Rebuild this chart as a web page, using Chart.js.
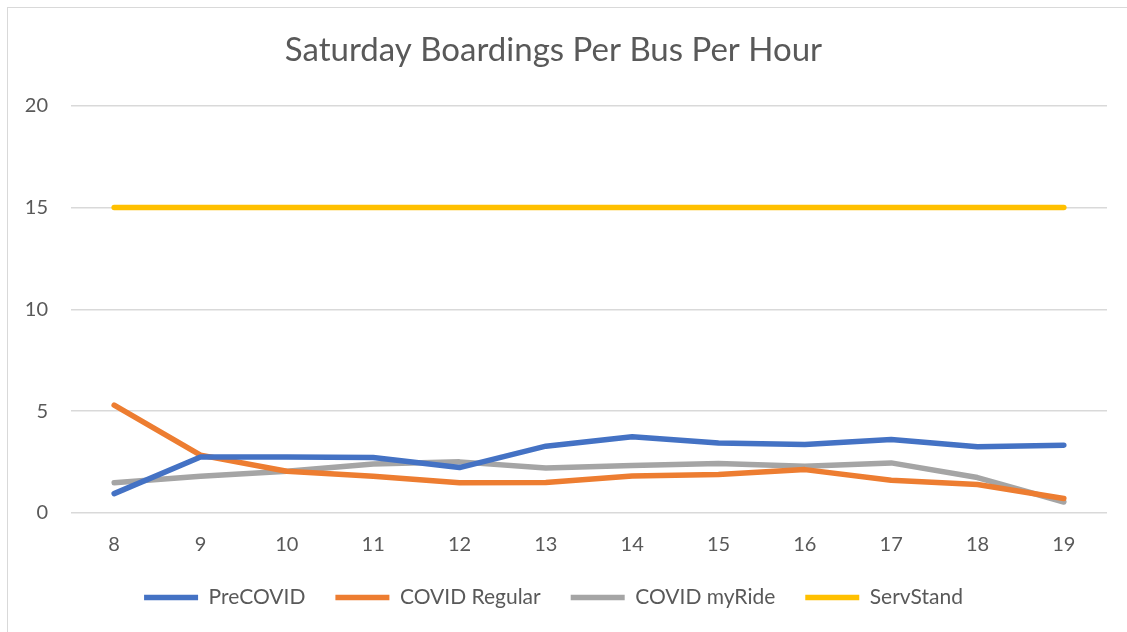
<!DOCTYPE html>
<html><head><meta charset="utf-8">
<script src="https://cdn.jsdelivr.net/npm/chart.js@4/dist/chart.umd.min.js"></script>
<style>
html,body{margin:0;padding:0;background:#fff;}
#wrap{position:relative;width:1127px;height:632px;}
#frame{position:absolute;left:7px;top:7px;width:1200px;height:700px;border-left:1px solid #d9d9d9;border-top:1px solid #d9d9d9;box-sizing:border-box;}
canvas{position:absolute;left:0;top:0;}
</style></head>
<body><div id="wrap"><div id="frame"></div><canvas id="c" width="1127" height="632"></canvas></div>
<script>
const hours = ['8','9','10','11','12','13','14','15','16','17','18','19'];
const preCovid = [0.95,2.75,2.75,2.72,2.23,3.28,3.74,3.44,3.36,3.61,3.25,3.33];
const covidRegular = [5.30,2.84,2.05,1.80,1.49,1.50,1.82,1.89,2.13,1.61,1.40,0.71];
const covidMyRide = [1.48,1.80,2.05,2.40,2.51,2.21,2.33,2.43,2.30,2.46,1.74,0.54];
const servStand = [15,15,15,15,15,15,15,15,15,15,15,15];
const yTicks = [0,5,10,15,20];
const titleText = 'Saturday Boardings Per Bus Per Hour';

const FONT = 'Lato, "Liberation Sans", sans-serif';
const TXT = '#595959';
function ds(label, data, color){
  return {label, data, borderColor: color, backgroundColor: color, borderWidth: 5.5,
    pointRadius: 0, pointHoverRadius: 0, tension: 0, borderCapStyle: 'round', borderJoinStyle: 'round', fill: false,
    pointStyle: 'line'};
}
new Chart(document.getElementById('c'), {
  type: 'line',
  data: {labels: hours, datasets: [
    ds('PreCOVID', preCovid, '#4472C4'),
    ds('COVID Regular', covidRegular, '#ED7D31'),
    ds('COVID myRide', covidMyRide, '#A5A5A5'),
    ds('ServStand', servStand, '#FFC000')
  ]},
  options: {
    responsive: false, animation: false,
    layout: {padding: {left: 0, right: 20, top: 0, bottom: 14}},
    plugins: {
      title: {display: true, text: titleText, color: TXT, font: {family: FONT, size: 33, weight: 'normal'}, padding: {top: 31, bottom: 35}},
      legend: {position: 'bottom', labels: {color: TXT, font: {family: FONT, size: 21}, usePointStyle: true, pointStyle: 'line', pointStyleWidth: 54, boxHeight: 5, padding: 30}},
      tooltip: {enabled: false}
    },
    scales: {
      x: {offset: true, grid: {display: false, drawTicks: false}, border: {display: false},
          ticks: {color: TXT, font: {family: FONT, size: 20}, padding: 20},
          afterFit: s => { s.height = 44; }},
      y: {min: 0, max: 20, afterBuildTicks: s => { s.ticks = yTicks.map(v => ({value: v})); },
          grid: {color: '#d9d9d9', lineWidth: 1.5, drawTicks: false}, border: {display: false},
          ticks: {color: TXT, font: {family: FONT, size: 20}, padding: 23},
          afterFit: s => { s.width = 71; }}
    }
  }
});
</script></body></html>
